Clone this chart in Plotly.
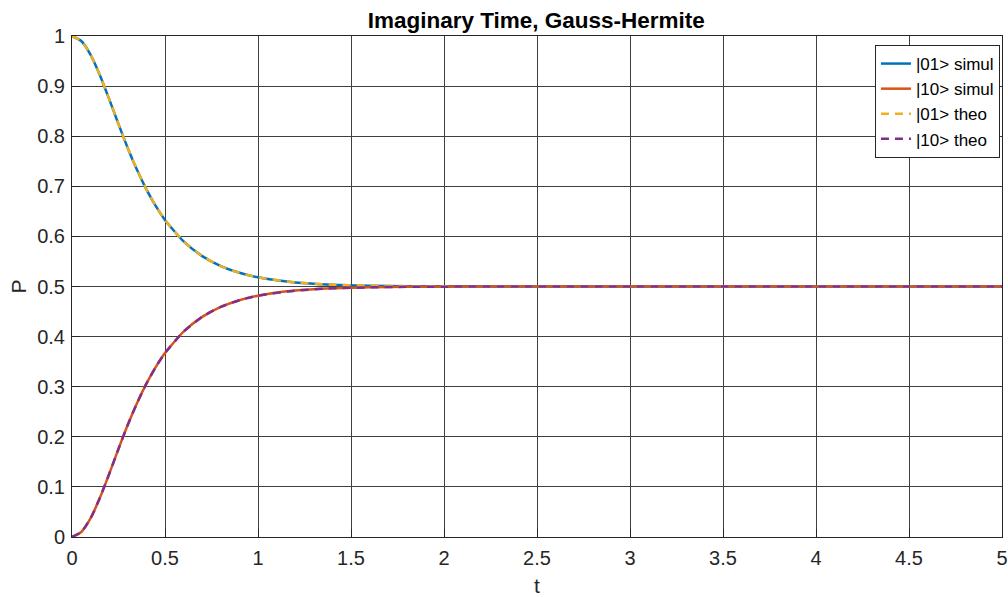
import plotly.graph_objects as go

# Time samples (denser where the populations change quickly)
t = [0.0, 0.05, 0.1, 0.15, 0.2, 0.25, 0.3, 0.35, 0.4, 0.45, 0.5,
     0.6, 0.7, 0.8, 0.9, 1.0, 1.2, 1.4, 1.6, 1.8, 2.0, 2.5,
     3.0, 3.5, 4.0, 4.5, 5.0]

# Population of |01>
p01_simul = [1.0, 0.990, 0.9625, 0.9218, 0.8739, 0.824, 0.7761, 0.7325, 0.694,
             0.6609, 0.6329, 0.590, 0.5606, 0.5407, 0.5273, 0.5183, 0.5082,
             0.5037, 0.5017, 0.5007, 0.5003, 0.5, 0.5, 0.5, 0.5, 0.5, 0.5]
p01_theo = [1.0, 0.990, 0.9625, 0.9218, 0.8739, 0.824, 0.7761, 0.7325, 0.694,
            0.6609, 0.6329, 0.590, 0.5606, 0.5407, 0.5273, 0.5183, 0.5082,
            0.5037, 0.5017, 0.5007, 0.5003, 0.5, 0.5, 0.5, 0.5, 0.5, 0.5]

# Population of |10>
p10_simul = [0.0, 0.010, 0.0375, 0.0782, 0.1261, 0.176, 0.2239, 0.2675, 0.306,
             0.3391, 0.3671, 0.410, 0.4394, 0.4593, 0.4727, 0.4817, 0.4918,
             0.4963, 0.4983, 0.4993, 0.4997, 0.5, 0.5, 0.5, 0.5, 0.5, 0.5]
p10_theo = [0.0, 0.010, 0.0375, 0.0782, 0.1261, 0.176, 0.2239, 0.2675, 0.306,
            0.3391, 0.3671, 0.410, 0.4394, 0.4593, 0.4727, 0.4817, 0.4918,
            0.4963, 0.4983, 0.4993, 0.4997, 0.5, 0.5, 0.5, 0.5, 0.5, 0.5]

x_ticks = [0, 0.5, 1, 1.5, 2, 2.5, 3, 3.5, 4, 4.5, 5]
x_tick_text = ["0", "0.5", "1", "1.5", "2", "2.5", "3", "3.5", "4", "4.5", "5"]
y_ticks = [0, 0.1, 0.2, 0.3, 0.4, 0.5, 0.6, 0.7, 0.8, 0.9, 1]
y_tick_text = ["0", "0.1", "0.2", "0.3", "0.4", "0.5", "0.6", "0.7", "0.8", "0.9", "1"]

series = [
    ("|01> simul", p01_simul, "#0072BD", "solid"),
    ("|10> simul", p10_simul, "#D95319", "solid"),
    ("|01> theo", p01_theo, "#EDB120", "8px,6px"),
    ("|10> theo", p10_theo, "#7E2F8E", "8px,6px"),
]

fig = go.Figure()
for name, y, color, dash in series:
    fig.add_trace(go.Scatter(
        x=t, y=y, name=name, mode="lines",
        line=dict(color=color, width=2.5, dash=dash, shape="spline", smoothing=0.6),
    ))

font = "Liberation Sans, Arial, Helvetica, sans-serif"
axis_common = dict(
    showgrid=True, gridcolor="#404040", gridwidth=1,
    showline=True, linecolor="#262626", linewidth=1, mirror=True,
    ticks="inside", ticklen=8, tickcolor="#262626",
    zeroline=False, automargin=False,
    tickfont=dict(family=font, size=20, color="#262626"),
)

fig.update_layout(
    width=1008, height=597,
    margin=dict(l=72, r=6, t=36, b=60),
    paper_bgcolor="white", plot_bgcolor="white",
    title=dict(text="<b>Imaginary Time, Gauss-Hermite</b>", x=0.532, xanchor="center",
               y=0.966, yanchor="middle",
               font=dict(family=font, size=22.5, color="black")),
    xaxis=dict(range=[0, 5], tickvals=x_ticks, ticktext=x_tick_text,
               title=dict(text="t", font=dict(family=font, size=21, color="#262626"),
                          standoff=13),
               ticklabelstandoff=3, **axis_common),
    yaxis=dict(range=[0, 1], tickvals=y_ticks, ticktext=y_tick_text,
               title=dict(text="P", font=dict(family=font, size=21, color="#262626"),
                          standoff=4),
               ticklabelstandoff=2, **axis_common),
    legend=dict(x=0.9978, y=0.982, xanchor="right", yanchor="top",
                bgcolor="white", bordercolor="#262626", borderwidth=1,
                font=dict(family=font, size=17, color="black"),
                tracegroupgap=0, itemwidth=30),
    showlegend=True,
)

fig.write_html("out.html")
